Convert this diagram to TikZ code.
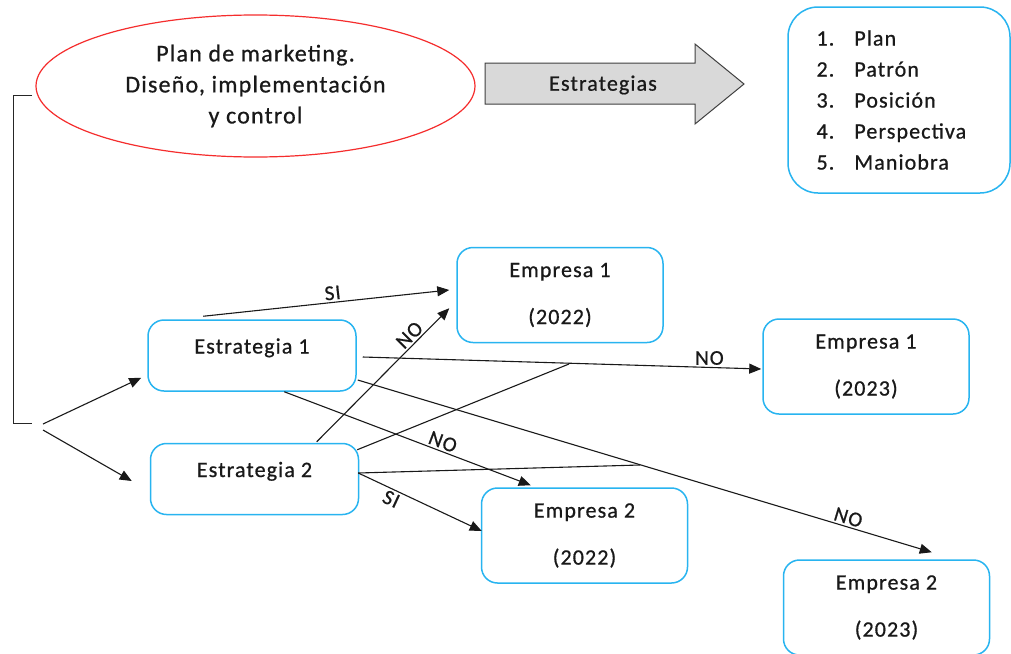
\documentclass[tikz,border=0pt]{standalone}
\usepackage{fontspec}
\setmainfont{Carlito}[LetterSpace=5,FakeBold=0.7]
\usetikzlibrary{arrows.meta,shapes.geometric,calc}
\definecolor{boxblue}{RGB}{40,180,240}
\definecolor{ellred}{RGB}{245,45,45}
\definecolor{arrgray}{RGB}{217,217,217}
\definecolor{txt}{RGB}{25,25,25}
\tikzset{
  every node/.style={text=txt,font=\fontsize{22}{27}\selectfont},
  rbox/.style={draw=boxblue,line width=1.5pt,rounded corners=16pt,align=center,inner sep=0pt},
  estbox/.style={rbox,minimum width=208pt,minimum height=71pt,text height=15pt,text depth=19pt},
  empbox/.style={rbox,minimum width=206pt,minimum height=95pt},
  conn/.style={line width=1.1pt,draw=black!90},
  arr/.style={conn,-{Triangle[length=12pt,width=10pt]}},
  lbl/.style={font=\fontsize{21}{24}\selectfont,inner sep=2pt}
}
\begin{document}
\begin{tikzpicture}[x=1pt,y=-1pt]
\clip (0,0) rectangle (1011,653);
\fill[white] (0,0) rectangle (1011,653);

% ellipse
\node[draw=ellred,line width=1.2pt,ellipse,minimum width=439pt,minimum height=142pt,inner sep=0pt,align=center,
  font=\fontsize{24}{31}\selectfont] (plan) at (255.5,86) {Plan de marketing.\\Diseño, implementación\\y control};

% big arrow
\filldraw[fill=arrgray,draw=black!75,line width=1pt]
  (485,63) -- (695,63) -- (695,44) -- (744,84) -- (695,124) -- (695,104) -- (485,104) -- cycle;
\node (estr) at (603,85) {Estrategias};

% list box
\node[draw=boxblue,line width=1.5pt,rounded corners=30pt,minimum width=222pt,minimum height=186pt] (list) at (899,100) {};
\node[anchor=west,align=left,font=\fontsize{22}{31}\selectfont] (items) at (813,100)
  {1.\hspace{20pt}Plan\\2.\hspace{20pt}Patrón\\3.\hspace{20pt}Posición\\4.\hspace{20pt}Perspectiva\\5.\hspace{20pt}Maniobra};

% bracket
\coordinate (brtop) at (32,95);
\coordinate (brbot) at (32,423);
\draw[line width=1pt,draw=black!85] (brtop) -- (13,95) -- (13,423) -- (brbot);
\coordinate (fork1) at (43,424);
\coordinate (fork2) at (43,430);

% strategy boxes
\node[estbox] (s1) at (252,355.5) {Estrategia 1};
\node[estbox] (s2) at (254.5,479) {Estrategia 2};

% company boxes
\node[empbox] (e1) at (560,295) {Empresa 1\\[20pt](2022)};
\node[empbox] (e3) at (866,366.5) {Empresa 1\\[20pt](2023)};
\node[empbox] (e2) at (584.5,535.5) {Empresa 2\\[20pt](2022)};
\node[empbox] (e4) at (886.5,607.5) {Empresa 2\\[20pt](2023)};

% fork arrows
\draw[arr] (fork1) -- ([xshift=-6pt,yshift=14pt]s1.south west);
\draw[arr] (fork2) -- ([xshift=-18pt,yshift=-2pt]s2.west);

% connectors
\draw[arr] ([xshift=56pt,yshift=3pt]s1.north west) -- node[lbl,pos=0.53,sloped,above] {SI} ([xshift=-7pt,yshift=5pt]e1.west);
\draw[arr] ([xshift=167pt,yshift=1pt]s2.north west) -- node[lbl,pos=0.75,sloped,above] {NO} ([xshift=-7pt,yshift=35pt]e1.south west);
\draw[arr] ([xshift=6pt,yshift=-1.5pt]s1.east) -- node[lbl,pos=0.87,above] {NO} ([xshift=-1pt,yshift=-2.5pt]e3.west);
\coordinate (m1) at (569,364);
\draw[conn] ([xshift=-2pt,yshift=-7pt]s2.north east) -- (m1);
\draw[arr] ([xshift=137pt]s1.south west) -- node[lbl,pos=0.63,sloped,above] {NO} ([xshift=50pt,yshift=2pt]e2.north west);
\draw[arr] ([xshift=1pt,yshift=-24.5pt]s1.east) -- node[lbl,pos=0.85,sloped,above] {NO} ([xshift=149pt,yshift=7pt]e4.north west);
\coordinate (m2) at (640,465);
\draw[conn] ([xshift=-1pt,yshift=6pt]s2.east) -- (m2);
\draw[arr] ([xshift=-1pt,yshift=6pt]s2.east) -- node[lbl,pos=0.3,sloped,below] {SI} ([xshift=1pt,yshift=4.5pt]e2.west);
\end{tikzpicture}
\end{document}
